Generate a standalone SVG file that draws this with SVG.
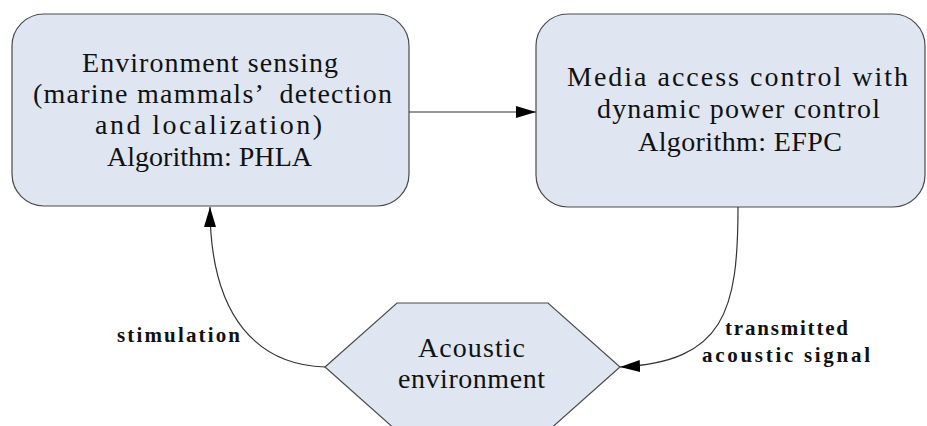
<svg xmlns="http://www.w3.org/2000/svg" width="927" height="426" viewBox="0 0 927 426">
<defs>
<style>
.box{fill:#dfe6f1;stroke:#4a4a4a;stroke-width:1.2}
.t{font-family:"Liberation Serif","DejaVu Serif",serif;font-size:28px;fill:#111;white-space:pre}
.l{font-family:"Liberation Serif","DejaVu Serif",serif;font-size:21px;font-weight:bold;fill:#111}
.c{fill:none;stroke:#333;stroke-width:1.2}
</style>
<marker id="ah" viewBox="0 0 20 12" refX="20" refY="6" markerWidth="20" markerHeight="12" markerUnits="userSpaceOnUse" orient="auto">
<path d="M0,0 L20,6 L0,12 Z" fill="#000"/>
</marker>
</defs>
<g id="node-sensing">
<rect class="box" x="12" y="14" width="397" height="192" rx="32" ry="32"/>
<text class="t" x="82" y="72" textLength="256" lengthAdjust="spacing">Environment sensing</text>
<text class="t" x="33" y="103" textLength="359" lengthAdjust="spacing">(marine mammals’  detection</text>
<text class="t" x="95" y="134" textLength="227" lengthAdjust="spacing">and localization)</text>
<text class="t" x="107" y="166" textLength="205" lengthAdjust="spacing">Algorithm: PHLA</text>
</g>
<g id="node-mac">
<rect class="box" x="536" y="14" width="389" height="193" rx="32" ry="32"/>
<text class="t" x="567" y="86" textLength="341" lengthAdjust="spacing">Media access control with</text>
<text class="t" x="597" y="118" textLength="283" lengthAdjust="spacing">dynamic power control</text>
<text class="t" x="638" y="151" textLength="204" lengthAdjust="spacing">Algorithm: EFPC</text>
</g>
<g id="node-acoustic">
<polygon class="box" points="325,367 397,303 548,303 620,367 548,431 397,431"/>
<text class="t" x="418" y="357" textLength="107" lengthAdjust="spacing">Acoustic</text>
<text class="t" x="398" y="388" textLength="147" lengthAdjust="spacing">environment</text>
</g>
<g id="connectors">
<path class="c" d="M409,112 L536,112" marker-end="url(#ah)"/>
<path class="c" d="M325,367 C260,365 210,320 210,207" marker-end="url(#ah)"/>
<path class="c" d="M738,207 C738,310 725,362 620,367" marker-end="url(#ah)"/>
</g>
<g id="labels">
<text class="l" x="117" y="342" textLength="123" lengthAdjust="spacing">stimulation</text>
<text class="l" x="725" y="335" textLength="123" lengthAdjust="spacing">transmitted</text>
<text class="l" x="702" y="362" textLength="168" lengthAdjust="spacing">acoustic signal</text>
</g>
</svg>
